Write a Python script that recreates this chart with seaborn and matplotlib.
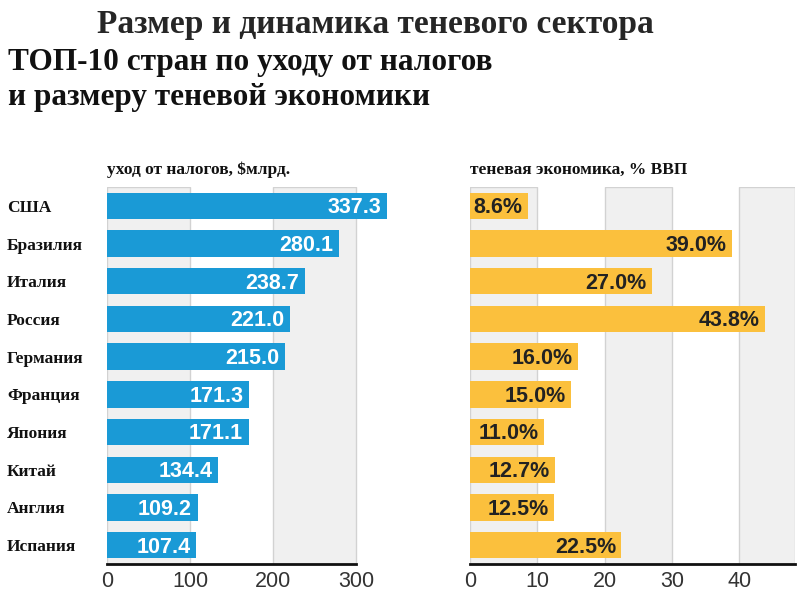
import pandas as pd
import matplotlib.pyplot as plt
import seaborn as sns

# data
countries = ['США', 'Бразилия', 'Италия', 'Россия', 'Германия',
             'Франция', 'Япония', 'Китай', 'Англия', 'Испания']
tax_evasion = [337.3, 280.1, 238.7, 221.0, 215.0, 171.3, 171.1, 134.4, 109.2, 107.4]
shadow_share = [8.6, 39.0, 27.0, 43.8, 16.0, 15.0, 11.0, 12.7, 12.5, 22.5]
left_ticks = [0, 100, 200, 300]
right_ticks = [0, 10, 20, 30, 40]

df = pd.DataFrame({'country': countries, 'tax': tax_evasion, 'shadow': shadow_share})

sns.set_theme(style='white')
plt.rcParams['font.family'] = ['Liberation Sans', 'DejaVu Sans']

BLUE = '#1A9AD6'
YELLOW = '#FBC03D'
BAND = '#F0F0F0'
BAND_EDGE = '#D2D2D2'

fig = plt.figure(figsize=(8, 6), dpi=100)
W, H = 800, 600


def px_axes(x0, x1, y_top, y_bot):
    return fig.add_axes([x0 / W, 1 - y_bot / H, (x1 - x0) / W, (y_bot - y_top) / H])


# left panel: 0..340 over 107..389 px
ax1 = px_axes(107, 389, 187, 564)
# right panel: 0..48.3 over 470..795 px
ax2 = px_axes(470, 795, 187, 564)

# background bands
for lo, hi in [(0, 100), (200, 300)]:
    ax1.axvspan(lo, hi, color=BAND, ec=BAND_EDGE, lw=1, zorder=0)
for lo, hi in [(0, 10), (20, 30), (40, 48.3)]:
    ax2.axvspan(lo, hi, color=BAND, ec=BAND_EDGE, lw=1, zorder=0)

sns.barplot(data=df, y='country', x='tax', color=BLUE, saturation=1,
            width=0.7, orient='h', ax=ax1, zorder=2, linewidth=0, edgecolor='none')
sns.barplot(data=df, y='country', x='shadow', color=YELLOW, saturation=1,
            width=0.7, orient='h', ax=ax2, zorder=2, linewidth=0, edgecolor='none')

ax1.set_xlim(0, 340)
ax2.set_xlim(0, 48.3)

for ax, ticks in [(ax1, left_ticks), (ax2, right_ticks)]:
    ax.set_ylim(9.5, -0.5)
    ax.set_xlabel('')
    ax.set_ylabel('')
    ax.set_xticks(ticks)
    ax.set_xticklabels([str(t) for t in ticks], fontsize=15.5, color='#333333')
    ax.tick_params(axis='x', length=0, pad=5)
    for s in ['top', 'right', 'left']:
        ax.spines[s].set_visible(False)
    ax.spines['bottom'].set_color('#111111')
    ax.spines['bottom'].set_linewidth(2)
    ax.set_facecolor('none')

ax1.spines['bottom'].set_bounds(0, 300)

# country names on the left, left-aligned
ax1.set_yticks(range(len(countries)))
ax1.set_yticklabels(countries, ha='left', fontsize=12.5, fontweight='bold',
                    family='Liberation Serif', color='#111111')
ax1.tick_params(axis='y', length=0, pad=72)
ax2.set_yticks([])

# value labels inside bars
for i, v in enumerate(tax_evasion):
    ax1.text(v - 7, i + 0.05, f'{v:.1f}', ha='right', va='center', color='white',
             fontsize=15.5, fontweight='bold', zorder=3)
for i, v in enumerate(shadow_share):
    ax2.text(v - 0.8, i + 0.05, f'{v:.1f}%', ha='right', va='center', color='#222222',
             fontsize=15.5, fontweight='bold', zorder=3)

# panel headers
fig.text(107 / W, 1 - 170 / H, 'уход от налогов, $млрд.', fontsize=12.5,
         fontweight='bold', family='Liberation Serif', color='#111111', va='center')
fig.text(470 / W, 1 - 170 / H, 'теневая экономика, % ВВП', fontsize=12.5,
         fontweight='bold', family='Liberation Serif', color='#111111', va='center')

# titles
fig.text(375 / W, 1 - 24 / H, 'Размер и динамика теневого сектора', ha='center',
         va='center', fontsize=24, fontweight='bold', family='Liberation Serif')
fig.text(8 / W, 1 - 70 / H, 'ТОП-10 стран по уходу от налогов', ha='left',
         va='baseline', fontsize=22.5, fontweight='bold', family='Liberation Serif',
         color='#111111')
fig.text(8 / W, 1 - 105 / H, 'и размеру теневой экономики', ha='left',
         va='baseline', fontsize=22.5, fontweight='bold', family='Liberation Serif',
         color='#111111')

fig.savefig('out.png', dpi=100)
